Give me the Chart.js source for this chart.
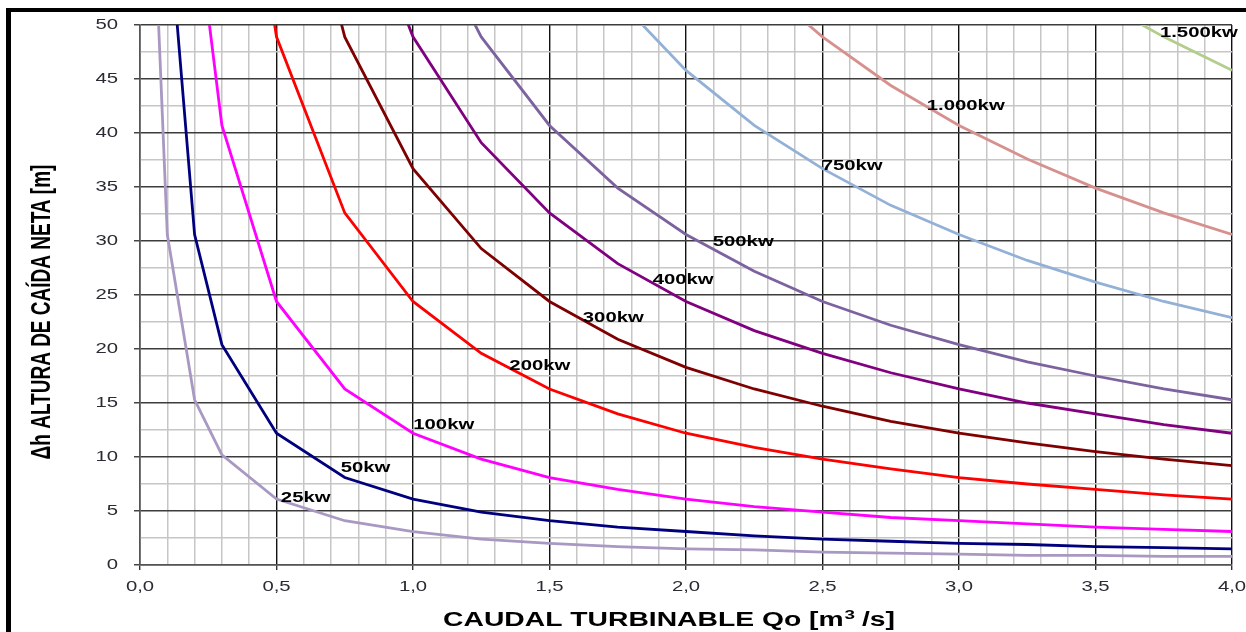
<!DOCTYPE html>
<html>
<head>
<meta charset="utf-8">
<script src="https://cdn.jsdelivr.net/npm/chart.js@4.4.1/dist/chart.umd.min.js"></script>
<style>
  html, body { margin: 0; padding: 0; background: #fff; overflow: hidden; }
  #wrap { position: relative; width: 1246px; height: 632px; }
  #frame { position: absolute; left: 6px; top: 8px; width: 1300px; height: 700px;
           border-top: 4px solid #000; border-left: 5px solid #000; pointer-events: none; }
  canvas { display: block; }
</style>
</head>
<body>
<div id="wrap">
  <canvas id="c" width="1246" height="632"></canvas>
  <div id="frame"></div>
</div>
<script>
// Caudal turbinable Qo [m3/s] at which each curve has a vertex
const caudal = [0.05, 0.1, 0.2, 0.3, 0.5, 0.75, 1.0, 1.25, 1.5, 1.75, 2.0, 2.25, 2.5, 2.75, 3.0, 3.25, 3.5, 3.75, 4.0];

// Net head Δh [m] for each installed power (null = not plotted)
const h25   = [61.1, 30.6, 15.3, 10.2, 6.1, 4.1, 3.1, 2.4, 2.0, 1.7, 1.5, 1.4, 1.2, 1.1, 1.0, 0.9, 0.9, 0.8, 0.8];
const h50   = [null, 61.1, 30.6, 20.4, 12.2, 8.1, 6.1, 4.9, 4.1, 3.5, 3.1, 2.7, 2.4, 2.2, 2.0, 1.9, 1.7, 1.6, 1.5];
const h100  = [null, null, 61.1, 40.7, 24.4, 16.3, 12.2, 9.8, 8.1, 7.0, 6.1, 5.4, 4.9, 4.4, 4.1, 3.8, 3.5, 3.3, 3.1];
const h200  = [null, null, null, 81.5, 48.9, 32.6, 24.4, 19.6, 16.3, 14.0, 12.2, 10.9, 9.8, 8.9, 8.1, 7.5, 7.0, 6.5, 6.1];
const h300  = [null, null, null, null, 73.3, 48.9, 36.7, 29.3, 24.4, 20.9, 18.3, 16.3, 14.7, 13.3, 12.2, 11.3, 10.5, 9.8, 9.2];
const h400  = [null, null, null, null, null, 65.2, 48.9, 39.1, 32.6, 27.9, 24.4, 21.7, 19.6, 17.8, 16.3, 15.0, 14.0, 13.0, 12.2];
const h500  = [null, null, null, null, null, null, 61.1, 48.9, 40.7, 34.9, 30.6, 27.2, 24.4, 22.2, 20.4, 18.8, 17.5, 16.3, 15.3];
const h750  = [null, null, null, null, null, null, null, null, null, 52.4, 45.8, 40.7, 36.7, 33.3, 30.6, 28.2, 26.2, 24.4, 22.9];
const h1000 = [null, null, null, null, null, null, null, null, null, null, null, 54.3, 48.9, 44.4, 40.7, 37.6, 34.9, 32.6, 30.6];
const h1500 = [null, null, null, null, null, null, null, null, null, null, null, null, null, null, null, null, 52.4, 48.9, 45.8];

const seriesNames = ['25kw', '50kw', '100kw', '200kw', '300kw', '400kw', '500kw', '750kw', '1.000kw', '1.500kw'];
const seriesValues = [h25, h50, h100, h200, h300, h400, h500, h750, h1000, h1500];

// Axis tick labels
const xTickValues = [0, 0.5, 1.0, 1.5, 2.0, 2.5, 3.0, 3.5, 4.0];
const xTickLabels = ['0,0', '0,5', '1,0', '1,5', '2,0', '2,5', '3,0', '3,5', '4,0'];
const yTickValues = [0, 5, 10, 15, 20, 25, 30, 35, 40, 45, 50];
const yTickLabels = ['0', '5', '10', '15', '20', '25', '30', '35', '40', '45', '50'];

// Styling
const colors = ['#a898c2', '#00007e', '#ff00ff', '#ff0000', '#7f0000', '#800080', '#7c629e', '#93b1d6', '#d6918f', '#b2cd8c'];
// where each curve's name is written (data units: left edge, vertical middle)
const labelSpots = [
  [0.516, 6.2], [0.735, 8.95], [1.001, 12.96], [1.353, 18.45], [1.622, 22.9],
  [1.878, 26.4], [2.098, 29.9], [2.497, 36.9], [2.882, 42.5], [3.736, 49.2]
];

const SX = 1.45; // horizontal stretch of the lettering
const near = (v, step) => Math.abs(v / step - Math.round(v / step)) < 1e-6;

function stretchedText(ctx, text, x, y, font, color, align, rotate) {
  ctx.save();
  ctx.translate(x, y);
  ctx.scale(SX, 1);
  if (rotate) ctx.rotate(-Math.PI / 2);
  ctx.font = font;
  ctx.fillStyle = color;
  ctx.textAlign = align;
  ctx.textBaseline = 'middle';
  ctx.fillText(text, 0, 0);
  ctx.restore();
}

const lettering = {
  id: 'lettering',
  afterDatasetsDraw(chart) {
    const ctx = chart.ctx;
    const xs = chart.scales.x, ys = chart.scales.y;
    const tickFont = '14px "Liberation Sans", Arial, sans-serif';
    // tick labels
    xTickValues.forEach((v, i) => {
      stretchedText(ctx, xTickLabels[i], xs.getPixelForValue(v), 587, tickFont, '#2b2b33', 'center');
    });
    yTickValues.forEach((v, i) => {
      stretchedText(ctx, yTickLabels[i], 118, ys.getPixelForValue(v), tickFont, '#2b2b33', 'right');
    });
    // curve names
    const lblFont = 'bold 14px "Liberation Sans", Arial, sans-serif';
    seriesNames.forEach((name, i) => {
      const [qx, hy] = labelSpots[i];
      stretchedText(ctx, name, xs.getPixelForValue(qx), ys.getPixelForValue(hy), lblFont, '#000', 'left');
    });
    // y axis title
    stretchedText(ctx, 'Δh ALTURA DE CAÍDA NETA [m]', 42, 312,
      'bold 19px "Liberation Sans", Arial, sans-serif', '#000', 'center', true);
    // x axis title with superscript
    const tFont = 'bold 19.5px "Liberation Sans", Arial, sans-serif';
    const sFont = 'bold 13px "Liberation Sans", Arial, sans-serif';
    const p1 = 'CAUDAL TURBINABLE Qo [m', p2 = '3', p3 = ' /s]';
    ctx.save();
    ctx.font = tFont; const w1 = ctx.measureText(p1).width, w3 = ctx.measureText(p3).width;
    ctx.font = sFont; const w2 = ctx.measureText(p2).width;
    ctx.restore();
    const total = (w1 + w2 + w3) * SX;
    let x0 = 669 - total / 2;
    const ty = 621;
    stretchedText(ctx, p1, x0, ty, tFont, '#000', 'left');
    stretchedText(ctx, p2, x0 + w1 * SX + 1, ty - 6, sFont, '#000', 'left');
    stretchedText(ctx, p3, x0 + (w1 + w2) * SX, ty, tFont, '#000', 'left');
  }
};

const datasets = seriesNames.map((name, i) => ({
  label: name,
  data: caudal.map((q, j) => ({ x: q, y: seriesValues[i][j] })),
  borderColor: colors[i],
  backgroundColor: colors[i],
  borderWidth: 2.8,
  pointRadius: 0,
  tension: 0,
  spanGaps: false,
  fill: false
}));

new Chart(document.getElementById('c'), {
  type: 'line',
  data: { datasets },
  plugins: [lettering],
  options: {
    responsive: false,
    animation: false,
    events: [],
    layout: { padding: { left: 0, right: 14, top: 25, bottom: 0 } },
    plugins: { legend: { display: false }, tooltip: { enabled: false } },
    scales: {
      x: {
        type: 'linear', min: 0, max: 4,
        afterFit: s => { s.height = 67; },
        ticks: { stepSize: 0.1, display: false },
        grid: {
          color: c => near(c.tick.value, 0.5) ? '#111' : '#c6c6c6',
          lineWidth: c => near(c.tick.value, 0.5) ? 1.4 : 1.5,
          tickColor: c => near(c.tick.value, 0.5) ? '#333' : 'rgba(0,0,0,0)',
          tickLength: 5
        },
        border: { color: '#555', width: 1.5 }
      },
      y: {
        type: 'linear', min: 0, max: 50,
        afterFit: s => { s.width = 140; },
        ticks: { stepSize: 2.5, display: false },
        grid: {
          color: c => near(c.tick.value, 5) ? '#3c3c3c' : '#c6c6c6',
          lineWidth: 1.5,
          tickColor: c => near(c.tick.value, 5) ? '#444' : 'rgba(0,0,0,0)',
          tickLength: 6
        },
        border: { color: '#555', width: 1.5 }
      }
    }
  }
});
</script>
</body>
</html>
